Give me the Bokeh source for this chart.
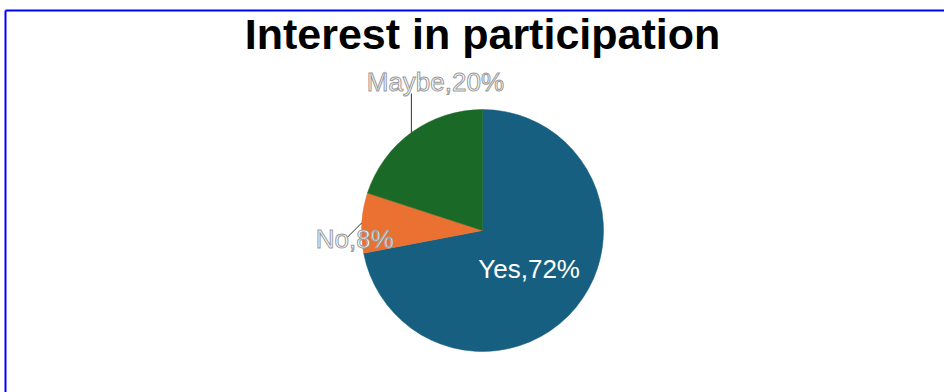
import numpy as np
from bokeh.plotting import figure
from bokeh.models import Range1d, ColumnDataSource
from bokeh.core.properties import value
from bokeh.embed import file_html
from bokeh.resources import INLINE

# ---- data ----
title_text = "Interest in participation"
categories = ["Yes", "No", "Maybe"]
percents = [72, 8, 20]
colors = ["#175f80", "#ea7132", "#1b6926"]

# ---- layout / style (pixels) ----
W, H = 944, 392
cx_px, cy_px, r_px = 482, 230, 121
inside = [True, False, False]
# outside labels: leader end offset from edge point, text offset from leader end
lead_off = [(0, 0), (-15, 15), (None, 93)]
text_off = [(0, 0), (8, 1), (24, -12)]
FONT = "Liberation Sans"

def Y(py):
    return H - py

p = figure(width=W, height=H, output_backend="svg", toolbar_location=None,
           x_range=Range1d(0, W), y_range=Range1d(0, H),
           x_axis_type=None, y_axis_type=None, min_border=0,
           outline_line_color=None)
p.grid.visible = False
p.background_fill_color = "white"
p.border_fill_color = "white"

vals = np.array(percents, dtype=float)
frac = vals / vals.sum()
cum = np.concatenate([[0], np.cumsum(frac)])
# clockwise from 12 o'clock
ends = np.pi / 2 - cum[:-1] * 2 * np.pi
starts = np.pi / 2 - cum[1:] * 2 * np.pi
mids = (starts + ends) / 2

src = ColumnDataSource(dict(start=starts, end=ends, color=colors, cat=categories))
p.wedge(x=cx_px, y=Y(cy_px), radius=r_px, start_angle="start", end_angle="end",
        fill_color="color", line_color="color", line_width=0.5, source=src)

cy = Y(cy_px)
for i, (cat, pct) in enumerate(zip(categories, percents)):
    label = f"{cat},{pct}%"
    a = mids[i]
    if inside[i]:
        tx = cx_px + 0.5 * r_px * np.cos(a)
        ty = cy + 0.5 * r_px * np.sin(a)
        p.text(x=[tx], y=[ty], text=[label], text_color="white",
               text_font=value(FONT), text_font_size="26px",
               text_align="center", text_baseline="middle")
    else:
        ex = cx_px + r_px * np.cos(a)
        ey = cy + r_px * np.sin(a)
        dx, dy = lead_off[i]
        if dx is None:
            lx, ly = ex, Y(dy)
        else:
            lx, ly = ex + dx, ey - dy
        p.line(x=[ex, lx], y=[ey, ly], line_color="#333333", line_width=1)
        tdx, tdy = text_off[i]
        p.text(x=[lx + tdx], y=[ly - tdy], text=[label], text_color="white",
               text_outline_color="#9a9a9a",
               text_font=value(FONT), text_font_size="26px",
               text_align="center", text_baseline="middle")

# title
p.text(x=[cx_px], y=[Y(33)], text=[title_text], text_color="black",
       text_font=value(FONT), text_font_size="43px", text_font_style="bold",
       text_align="center", text_baseline="middle")

# blue frame border (top and left edges visible)
p.segment(x0=[5, 5], y0=[Y(10), Y(10)], x1=[W, 5], y1=[Y(10), 0],
          line_color="#0000ff", line_width=2)

open("out.html", "w").write(file_html(p, INLINE))
